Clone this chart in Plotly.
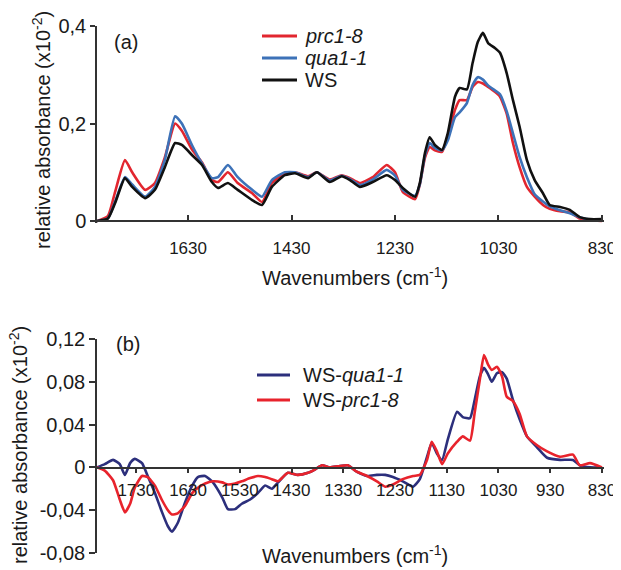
import plotly.graph_objects as go

# (a) absorbance spectra, values in units of 10^-2
wn_a = [1806, 1785, 1771, 1752, 1738, 1713, 1694, 1675, 1655, 1642, 1622, 1603, 1584,
        1572, 1553, 1534, 1506, 1487, 1468, 1443, 1423, 1398, 1381, 1356, 1333, 1317,
        1298, 1273, 1246, 1230, 1215, 1191, 1182, 1172, 1163, 1153, 1139, 1128, 1114,
        1105, 1091, 1080, 1070, 1060, 1050, 1037, 1027, 1014, 1002, 989, 975, 960,
        944, 931, 911, 892, 873, 853, 830]
prc1_8 = [0, 0.01, 0.06, 0.125, 0.1, 0.064, 0.078, 0.13, 0.2, 0.185, 0.146, 0.12, 0.084,
          0.08, 0.1, 0.078, 0.057, 0.039, 0.078, 0.098, 0.1, 0.092, 0.1, 0.085, 0.094, 0.088,
          0.078, 0.09, 0.115, 0.1, 0.06, 0.045, 0.075, 0.13, 0.152, 0.145, 0.142, 0.175, 0.228,
          0.248, 0.248, 0.275, 0.285, 0.282, 0.275, 0.265, 0.255, 0.22, 0.16, 0.11, 0.07, 0.05,
          0.033, 0.025, 0.02, 0.018, 0.005, 0.002, 0.0]
qua1_1 = [0, 0.005, 0.04, 0.09, 0.075, 0.05, 0.07, 0.125, 0.215, 0.2, 0.155, 0.118, 0.088,
          0.09, 0.115, 0.09, 0.064, 0.05, 0.084, 0.1, 0.1, 0.09, 0.1, 0.083, 0.093, 0.086,
          0.074, 0.085, 0.105, 0.093, 0.064, 0.052, 0.075, 0.135, 0.16, 0.15, 0.145, 0.165, 0.213,
          0.223, 0.242, 0.279, 0.295, 0.29, 0.278, 0.268, 0.26, 0.225, 0.18, 0.131, 0.09, 0.055,
          0.04, 0.03, 0.022, 0.016, 0.008, 0.003, 0.002]
ws = [0, 0.005, 0.037, 0.088, 0.07, 0.047, 0.064, 0.11, 0.16, 0.156, 0.135, 0.115, 0.08,
      0.068, 0.078, 0.064, 0.043, 0.033, 0.07, 0.094, 0.098, 0.088, 0.1, 0.08, 0.092, 0.084,
      0.07, 0.08, 0.094, 0.084, 0.068, 0.05, 0.078, 0.14, 0.172, 0.156, 0.146, 0.18, 0.255,
      0.273, 0.27, 0.324, 0.367, 0.386, 0.365, 0.355, 0.345, 0.303, 0.248, 0.193, 0.125, 0.084,
      0.057, 0.033, 0.029, 0.023, 0.008, 0.004, 0.004]

# (b) difference spectra
wn_b = [1806, 1791, 1775, 1762, 1752, 1742, 1733, 1719, 1708, 1694, 1681, 1669, 1661,
        1650, 1636, 1622, 1611, 1597, 1582, 1564, 1553, 1539, 1526, 1510, 1495, 1481,
        1468, 1456, 1437, 1418, 1398, 1385, 1371, 1356, 1340, 1321, 1304, 1284, 1265,
        1249, 1234, 1215, 1195, 1182, 1168, 1159, 1149, 1139, 1128, 1110, 1099, 1085,
        1076, 1066, 1058, 1050, 1043, 1033, 1023, 1014, 1002, 989, 975, 956, 936, 911,
        886, 873, 853, 830]
ws_qua1_1 = [0, 0.003, 0.007, 0.003, -0.007, 0.004, 0.008, 0.004, -0.008, -0.024, -0.041, -0.055, -0.06,
             -0.052, -0.033, -0.017, -0.009, -0.008, -0.014, -0.028, -0.039, -0.039, -0.034, -0.03, -0.024, -0.017,
             -0.02, -0.014, -0.005, -0.007, -0.005, -0.002, 0.002, 0, 0.001, 0.002, -0.004, -0.008, -0.007,
             -0.007, -0.009, -0.013, -0.018, -0.011, 0.01, 0.023, 0.013, 0.007, 0.026, 0.052, 0.047, 0.046,
             0.063, 0.085, 0.093, 0.087, 0.08, 0.088, 0.089, 0.083, 0.063, 0.045, 0.029, 0.019, 0.009, 0.007,
             0.007, 0.002, 0, 0]
ws_prc1_8 = [0, -0.003, -0.012, -0.03, -0.042, -0.034, -0.019, -0.008, -0.009, -0.017, -0.03, -0.04, -0.044,
             -0.043, -0.036, -0.024, -0.019, -0.015, -0.013, -0.014, -0.016, -0.015, -0.013, -0.01, -0.008, -0.009,
             -0.011, -0.013, -0.005, -0.007, -0.005, -0.002, 0.002, 0, 0.001, 0.002, -0.004, -0.008, -0.013,
             -0.018, -0.016, -0.011, -0.008, -0.007, 0.007, 0.024, 0.015, 0.003, 0.013, 0.024, 0.029, 0.025,
             0.051, 0.082, 0.105, 0.096, 0.091, 0.094, 0.085, 0.066, 0.062, 0.05, 0.029, 0.021, 0.015, 0.01,
             0.012, 0.002, 0.004, 0]

xticks_a = [1630, 1430, 1230, 1030, 830]
xticks_b = [1730, 1630, 1530, 1430, 1330, 1230, 1130, 1030, 930, 830]
yticks_a = [0, 0.2, 0.4]
yticklabels_a = ["0", "0,2", "0,4"]
yticks_b = [-0.08, -0.04, 0, 0.04, 0.08, 0.12]
yticklabels_b = ["-0,08", "-0,04", "0", "0,04", "0,08", "0,12"]

names_a = ["<i>prc1-8</i>", "<i>qua1-1</i>", "WS"]
colors_a = ["#e2262f", "#3d72b8", "#111111"]
names_b = ["WS-<i>qua1-1</i>", "WS-<i>prc1-8</i>"]
colors_b = ["#2c2f7c", "#e8232c"]

FONT = "Arial, Liberation Sans, sans-serif"
TXT = "#1a1a1a"
# page body adds an 8 px margin, so the figure is 8 px smaller and shifted
OFF = 8
W, H = 621 - OFF, 570 - OFF
L, R, T, B = 97 - OFF, 17, 26 - OFF, 17


def px_x(px):
    return (px - OFF - L) / (W - L - R)


def px_y(py):
    return 1 - (py - OFF - T) / (H - T - B)


fig = go.Figure()
for name, ys, col in zip(names_a, [prc1_8, qua1_1, ws], colors_a):
    fig.add_trace(go.Scatter(x=wn_a, y=ys, mode="lines", name=name, showlegend=False,
                             line=dict(color=col, width=2.6, shape="spline", smoothing=0.5),
                             xaxis="x", yaxis="y"))
for name, ys, col in zip(names_b, [ws_qua1_1, ws_prc1_8], colors_b):
    fig.add_trace(go.Scatter(x=wn_b, y=ys, mode="lines", name=name, showlegend=False,
                             line=dict(color=col, width=2.6, shape="spline", smoothing=0.5),
                             xaxis="x2", yaxis="y2"))

axis_common = dict(showgrid=False, zeroline=False, showline=True, linecolor="#333333",
                   linewidth=1.5, tickcolor="#333333", tickwidth=1.5, automargin=False)

fig.update_layout(
    width=W, height=H,
    margin=dict(l=L, r=R, t=T, b=B),
    paper_bgcolor="white", plot_bgcolor="white",
    font=dict(family=FONT, color=TXT, size=17),
    xaxis=dict(domain=[0, 1], range=[1806, 826], anchor="free", position=px_y(221),
               tickvals=xticks_a, ticks="inside", ticklen=5, ticklabelstandoff=12,
               tickfont=dict(size=17, color=TXT), **axis_common),
    yaxis=dict(domain=[px_y(223), 1], range=[-0.004, 0.4], anchor="x",
               tickvals=yticks_a, ticktext=yticklabels_a, ticks="outside", ticklen=5,
               tickfont=dict(size=20, color=TXT), **axis_common),
    xaxis2=dict(domain=[0, 1], range=[1806, 826], anchor="free", position=px_y(467.5),
                tickvals=xticks_b, ticks="outside", ticklen=5, ticklabelstandoff=2,
                tickfont=dict(size=17, color=TXT), **axis_common),
    yaxis2=dict(domain=[0, px_y(339)], range=[-0.08, 0.12], anchor="x2",
                tickvals=yticks_b, ticktext=yticklabels_b, ticks="outside", ticklen=6,
                tickfont=dict(size=20, color=TXT), **axis_common),
)

# legends drawn by hand so the rows sit as tight as in the figure
shapes = []
ann = []
for i, (name, col) in enumerate(zip(names_a, colors_a)):
    yy = px_y(36 + 22 * i)
    shapes.append(dict(type="line", xref="paper", yref="paper", x0=px_x(262), x1=px_x(297),
                       y0=yy, y1=yy, line=dict(color=col, width=3)))
    ann.append(dict(text=name, xref="paper", yref="paper", x=px_x(303), y=yy, xanchor="left",
                    yanchor="middle", showarrow=False, font=dict(size=20, color=TXT)))
for i, (name, col) in enumerate(zip(names_b, colors_b)):
    yy = px_y(375 + 25 * i)
    shapes.append(dict(type="line", xref="paper", yref="paper", x0=px_x(257), x1=px_x(290),
                       y0=yy, y1=yy, line=dict(color=col, width=3)))
    ann.append(dict(text=name, xref="paper", yref="paper", x=px_x(301), y=yy, xanchor="left",
                    yanchor="middle", showarrow=False, font=dict(size=20, color=TXT)))

extra = [
    dict(text="(a)", x=px_x(112), y=px_y(42), xanchor="left", yanchor="middle"),
    dict(text="(b)", x=px_x(114), y=px_y(344), xanchor="left", yanchor="middle"),
    dict(text="Wavenumbers (cm<sup>-1</sup>)", x=px_x(355), y=px_y(276),
         xanchor="center", yanchor="middle"),
    dict(text="Wavenumbers (cm<sup>-1</sup>)", x=px_x(355), y=px_y(554),
         xanchor="center", yanchor="middle"),
    dict(text="relative absorbance (x10<sup>-2</sup>)", x=px_x(41), y=px_y(130),
         xanchor="center", yanchor="middle", textangle=-90),
    dict(text="relative absorbance (x10<sup>-2</sup>)", x=px_x(18), y=px_y(445),
         xanchor="center", yanchor="middle", textangle=-90),
]
for a in extra:
    a.update(xref="paper", yref="paper", showarrow=False, font=dict(size=20, color=TXT))

fig.update_layout(shapes=shapes, annotations=ann + extra)

fig.write_html("out.html")
